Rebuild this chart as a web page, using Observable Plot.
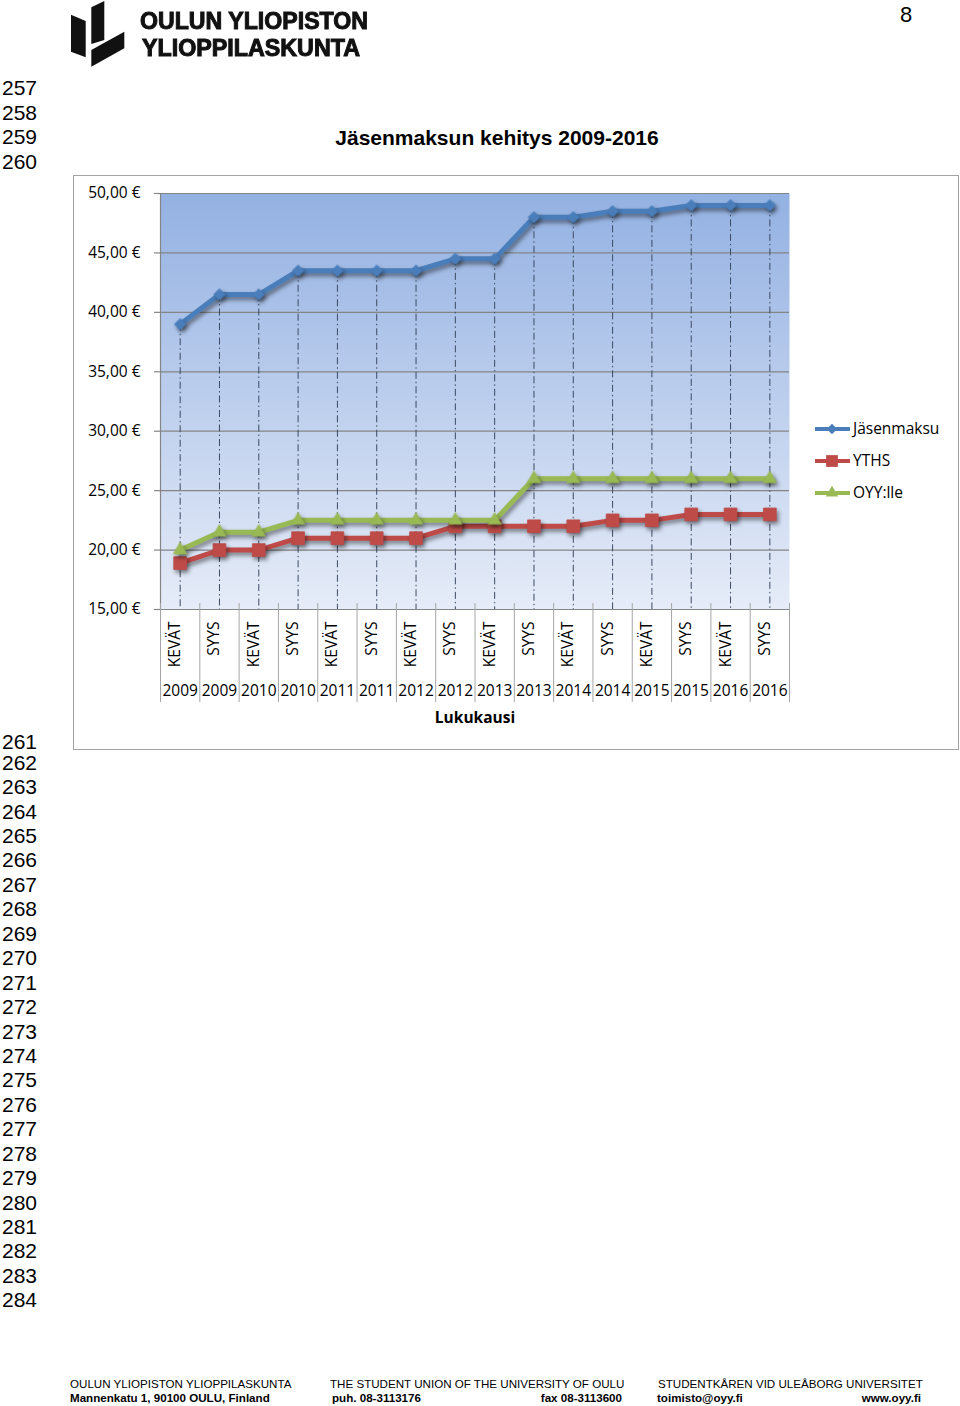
<!DOCTYPE html>
<html><head><meta charset="utf-8">
<script src="https://cdn.jsdelivr.net/npm/d3@7"></script>
<script src="https://cdn.jsdelivr.net/npm/@observablehq/plot@0.6"></script>
<style>
html,body{margin:0;padding:0;background:#fff;}
#page{position:relative;width:960px;height:1406px;overflow:hidden;font-family:"Liberation Sans",Arial,sans-serif;color:#000;}
.t{position:absolute;white-space:nowrap;line-height:1;}
.ln{left:2px;font-size:21px;line-height:16px;}
.logo{font-family:"Liberation Sans",Arial,sans-serif;font-weight:bold;line-height:20px;color:#111;transform-origin:0 50%;-webkit-text-stroke:1px #111;}
#title{left:0;width:994px;text-align:center;top:126.7px;font-size:21px;font-weight:bold;}
#box{position:absolute;left:73px;top:175px;width:886px;height:575px;box-sizing:border-box;border:1px solid #a3a3a3;}
#chart{position:absolute;left:73px;top:175px;}
.foot{font-size:11.6px;}
.lg{font-family:"Open Sans",sans-serif;font-size:15.5px;left:853px;}
</style></head>
<body><div id="page">
<svg class="t" style="left:0;top:0" width="130" height="70">
  <polygon points="71,14.7 85.7,21 85.7,57.3 71,51.7" fill="#111"/>
  <polygon points="91.3,7.3 104.3,1 104.3,40 91.3,44" fill="#111"/>
  <polygon points="91.3,50 124.3,31.7 124.3,48.3 91.3,66.7" fill="#111"/>
</svg>
<div class="t logo" id="logo1" data-w="228" style="left:140px;top:11.2px;font-size:23.5px;">OULUN YLIOPISTON</div>
<div class="t logo" id="logo2" data-w="218" style="left:142px;top:38px;font-size:23px;">YLIOPPILASKUNTA</div>
<div class="t" style="left:900px;top:4.2px;font-size:22px;">8</div>
<div id="title" class="t">Jäsenmaksun kehitys 2009-2016</div>
<div id="box"></div>
<div id="chart"></div>
<svg class="t" style="left:812px;top:415px" width="40" height="90" id="legsw"></svg>
<div class="t lg" style="top:421px">Jäsenmaksu</div>
<div class="t lg" style="top:453px">YTHS</div>
<div class="t lg" style="top:485px">OYY:lle</div>
<div class="t foot" style="left:70px;top:1378.3px">OULUN YLIOPISTON YLIOPPILASKUNTA</div>
<div class="t foot" style="left:70px;top:1392.3px;font-weight:bold">Mannenkatu 1, 90100 OULU, Finland</div>
<div class="t foot" style="left:330px;top:1378.3px">THE STUDENT UNION OF THE UNIVERSITY OF OULU</div>
<div class="t foot" style="left:332px;top:1392.3px;font-weight:bold">puh. 08-3113176</div>
<div class="t foot" style="right:338px;top:1392.3px;font-weight:bold">fax 08-3113600</div>
<div class="t foot" style="left:658px;top:1378.3px">STUDENTKÅREN VID ULEÅBORG UNIVERSITET</div>
<div class="t foot" style="left:657px;top:1392.3px;font-weight:bold">toimisto@oyy.fi</div>
<div class="t foot" style="right:39px;top:1392.3px;font-weight:bold">www.oyy.fi</div>
</div>
<script>
// ---- data ----
const seasons = ["KEVÄT","SYYS","KEVÄT","SYYS","KEVÄT","SYYS","KEVÄT","SYYS","KEVÄT","SYYS","KEVÄT","SYYS","KEVÄT","SYYS","KEVÄT","SYYS"];
const years = ["2009","2009","2010","2010","2011","2011","2012","2012","2013","2013","2014","2014","2015","2015","2016","2016"];
const jasenmaksu = [39,41.5,41.5,43.5,43.5,43.5,43.5,44.5,44.5,48,48,48.5,48.5,49,49,49];
const yths = [18.9,20,20,21,21,21,21,22,22,22,22,22.5,22.5,23,23,23];
const oyyLle = [20,21.5,21.5,22.5,22.5,22.5,22.5,22.5,22.5,26,26,26,26,26,26,26];
const yTicks = [15,20,25,30,35,40,45,50];
const seriesNames = ["Jäsenmaksu","YTHS","OYY:lle"];
const seriesColors = ["#4A7EBB","#BE4B48","#98B954"];
const seriesSymbols = ["diamond2","square","triangle"];
const seriesR = [5.2,7.2,5];
const xLabel = "Lukukausi";

const seriesValues = [jasenmaksu, yths, oyyLle];
const rows = seasons.map((s,i)=>({i, season:s, year:years[i], top:jasenmaksu[i]}));
const fmt = d => d.toFixed(2).replace(".", ",") + " €";
const cx = d => d.i + 0.5;

const seriesMarks = seriesValues.flatMap((vals,k) => {
  const pts = vals.map((v,i)=>({i, value:v}));
  return [
    Plot.line(pts, {x: cx, y: "value", stroke: seriesColors[k], strokeWidth: 5, strokeLinejoin:"round"}),
    Plot.dot(pts, {x: cx, y: "value", fill: seriesColors[k], symbol: seriesSymbols[k], r: seriesR[k], stroke: seriesColors[k], strokeWidth: 0.8})
  ];
});

const chart = Plot.plot({
  width: 885, height: 574,
  marginLeft: 87, marginRight: 169, marginTop: 18, marginBottom: 140,
  style: {fontFamily: "'Open Sans', sans-serif", fontSize: "15.5px", color: "#000", background: "transparent", overflow: "visible"},
  x: {domain: [0,16], axis: null},
  y: {domain: [15,50], axis: null},
  marks: [
    Plot.frame({fill: "url(#bgGrad)", stroke: "none"}),
    Plot.ruleY(yTicks.slice(1), {stroke: "#858585", strokeWidth: 1.2}),
    Plot.ruleX(rows, {x: cx, y1: "top", y2: () => 15, stroke: "#3b4a63", strokeWidth: 1, strokeDasharray: "7,3,1.5,3"}),
    Plot.ruleX([0], {stroke: "#858585", strokeWidth: 1.2}),
    Plot.ruleY([15], {stroke: "#858585", strokeWidth: 1.2}),
    Plot.ruleY(yTicks, {x1: () => 0, x2: () => 0, insetLeft: -6, stroke: "#858585", strokeWidth: 1.2}),
    Plot.ruleX(d3.range(17), {x: d => d, y1: () => 15, y2: () => 15, insetTop: -6, insetBottom: -93, stroke: "#a6a6a6", strokeWidth: 1}),
    Plot.text(yTicks, {y: d => d, text: fmt, frameAnchor: "left", dx: -20, textAnchor: "end", fill: "#000"}),
    ...seriesMarks,
    Plot.text(rows, {x: cx, text: "season", frameAnchor: "bottom", dy: 12, rotate: -90, textAnchor: "end", fill: "#000"}),
    Plot.text(rows, {x: cx, text: "year", frameAnchor: "bottom", dy: 86, fill: "#000"}),
    Plot.text([xLabel], {x: () => 8, text: d => d, frameAnchor: "bottom", dy: 113, fontWeight: "bold", fill: "#000"})
  ]
});

const s = d3.select(chart);
s.insert("defs", ":first-child").html(
  '<linearGradient id="bgGrad" x1="0" y1="0" x2="0" y2="1">' +
  '<stop offset="0" stop-color="#93b1e2"/><stop offset="1" stop-color="#e6ecf8"/></linearGradient>');
s.selectAll('g[aria-label="line"], g[aria-label="dot"]').style("filter", "drop-shadow(2px 3px 2px rgba(0,0,0,0.45))");
document.getElementById("chart").appendChild(chart);

// legend swatches
const lg = d3.select("#legsw");
const sym = {diamond2: d3.symbolDiamond2, square: d3.symbolSquare, triangle: d3.symbolTriangle};
seriesNames.forEach((n,k) => {
  const y = 14 + k*32;
  lg.append("line").attr("x1",3).attr("x2",38).attr("y1",y).attr("y2",y)
    .attr("stroke",seriesColors[k]).attr("stroke-width",4);
  lg.append("path").attr("transform",`translate(20,${y})`)
    .attr("d", d3.symbol(sym[seriesSymbols[k]], Math.PI*seriesR[k]*seriesR[k]*0.85)())
    .attr("fill",seriesColors[k]);
});

// logo text width fit
["logo1","logo2"].forEach(id => {
  const el = document.getElementById(id);
  const w = el.getBoundingClientRect().width;
  if (w > 0) el.style.transform = `scaleX(${(+el.dataset.w) / w})`;
});

// line numbers (page furniture)
const page = document.getElementById("page");
const addLn = (n, cy) => {
  const d = document.createElement("div");
  d.className = "t ln"; d.textContent = n; d.style.top = (cy - 7.8) + "px";
  page.appendChild(d);
};
[[257,88],[258,113],[259,137],[260,162],[261,742]].forEach(([n,y]) => addLn(n,y));
addLn(262, 763);
for (let n = 263; n <= 284; n++) addLn(n, 787 + (n-263)*24.43);
</script>
</body></html>
